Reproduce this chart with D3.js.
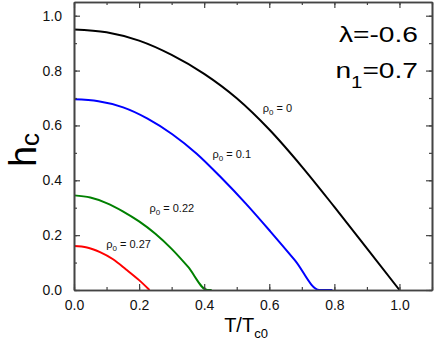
<!DOCTYPE html>
<html>
<head>
<meta charset="utf-8">
<script src="https://cdn.jsdelivr.net/npm/d3@7"></script>
<style>
  body { margin: 0; background: #fff; }
  text { font-family: "Liberation Sans", Arial, sans-serif; }
</style>
</head>
<body>
<div id="chart"></div>
<script>
// values (T/Tc0 , h_c)
var rhoLabels = ["0", "0.1", "0.22", "0.27"];
var colors = ["#000000", "#0000ff", "#008000", "#ff0000"];

var tBlack = [0, 0.1, 0.2, 0.3, 0.4, 0.5, 0.6, 0.7, 0.8, 0.9, 1.0];
var hBlack = [0.950, 0.940, 0.909, 0.857, 0.788, 0.699, 0.585, 0.450, 0.303, 0.152, 0];

var tBlue = [0, 0.075, 0.151, 0.226, 0.302, 0.377, 0.452, 0.528, 0.603, 0.679, 0.754, 0.794];
var hBlue = [0.695, 0.688, 0.666, 0.625, 0.568, 0.497, 0.410, 0.315, 0.214, 0.108, 0, 0];

var tGreen = [0, 0.05, 0.1, 0.15, 0.2, 0.25, 0.3, 0.35, 0.41, 0.423];
var hGreen = [0.345, 0.337, 0.317, 0.287, 0.250, 0.205, 0.150, 0.085, 0, 0];

var tRed = [0, 0.04, 0.08, 0.12, 0.16, 0.2, 0.232];
var hRed = [0.160, 0.155, 0.138, 0.112, 0.075, 0.036, 0];

var xTicks = [0, 0.2, 0.4, 0.6, 0.8, 1.0];
var yTicks = [0, 0.2, 0.4, 0.6, 0.8, 1.0];

(function() {
  var margin = { top: 2, left: 74, right: 4, bottom: 52 },
    width = 436 - margin.left - margin.right,
    height = 342 - margin.top - margin.bottom;

  var svg = d3.select("#chart")
    .append("svg")
    .attr("width", width + margin.left + margin.right)
    .attr("height", height + margin.top + margin.bottom)
    .append("g")
    .attr("transform", "translate(" + margin.left + "," + margin.top + ")");

  var x = d3.scaleLinear().domain([0, 1.1]).range([0, width]);
  var y = d3.scaleLinear().domain([0, 1.05]).range([height, 0]);

  var series = [[tBlack, hBlack], [tBlue, hBlue], [tGreen, hGreen], [tRed, hRed]];

  var line = d3.line()
    .x(function(d) { return x(d[0]); })
    .y(function(d) { return y(d[1]); })
    .curve(d3.curveMonotoneX);

  series.forEach(function(s, i) {
    var pts = s[0].map(function(t, j) { return [t, s[1][j]]; });
    svg.append("path")
      .datum(pts)
      .attr("d", line)
      .attr("fill", "none")
      .attr("stroke", colors[i])
      .attr("stroke-width", 2);
  });

  // axes, ticks point inward on all four sides
  var minorX = d3.range(0, 1.1001, 0.1);
  var minorY = d3.range(0, 1.0501, 0.1);

  function styleAxis(g) {
    g.select(".domain").attr("stroke", "#444").attr("stroke-width", 1.6);
    g.selectAll(".tick line").attr("stroke", "#444").attr("stroke-width", 1.2);
    g.selectAll(".tick text").attr("font-size", 14).attr("fill", "#111")
      .attr("font-family", "Liberation Sans, Arial, sans-serif");
  }

  svg.append("g").attr("transform", "translate(0," + height + ")")
    .call(d3.axisBottom(x).tickValues(minorX).tickSize(-3).tickFormat("").tickSizeOuter(0)).call(styleAxis);
  svg.append("g").attr("transform", "translate(0," + height + ")")
    .call(d3.axisBottom(x).tickValues(xTicks).tickSize(-6).tickPadding(10).tickFormat(d3.format(".1f")).tickSizeOuter(0))
    .call(styleAxis);

  svg.append("g")
    .call(d3.axisTop(x).tickValues(minorX).tickSize(-3).tickFormat("").tickSizeOuter(0)).call(styleAxis);
  svg.append("g")
    .call(d3.axisTop(x).tickValues(xTicks).tickSize(-6).tickFormat("").tickSizeOuter(0)).call(styleAxis);

  svg.append("g")
    .call(d3.axisLeft(y).tickValues(minorY).tickSize(-3).tickFormat("").tickSizeOuter(0)).call(styleAxis);
  svg.append("g")
    .call(d3.axisLeft(y).tickValues(yTicks).tickSize(-6).tickPadding(12).tickFormat(d3.format(".1f")).tickSizeOuter(0))
    .call(styleAxis);

  svg.append("g").attr("transform", "translate(" + width + ",0)")
    .call(d3.axisRight(y).tickValues(minorY).tickSize(-3).tickFormat("").tickSizeOuter(0)).call(styleAxis);
  svg.append("g").attr("transform", "translate(" + width + ",0)")
    .call(d3.axisRight(y).tickValues(yTicks).tickSize(-6).tickFormat("").tickSizeOuter(0)).call(styleAxis);

  // axis titles
  var xt = svg.append("text")
    .attr("x", 172).attr("y", height + 42)
    .attr("text-anchor", "middle")
    .attr("font-size", 20);
  xt.append("tspan").text("T/T");
  xt.append("tspan").attr("font-size", 13).attr("dy", 6).text("c0");

  var yt = svg.append("text")
    .attr("transform", "translate(-38," + (height / 2 + 4) + ") rotate(-90)")
    .attr("text-anchor", "middle")
    .attr("font-size", 38);
  yt.append("tspan").text("h");
  yt.append("tspan").attr("font-size", 26).attr("dy", 3).text("c");

  // curve labels, anchored in data units
  var labelAt = [[0.58, 0.649], [0.4255, 0.482], [0.232, 0.285], [0.099, 0.152]];
  rhoLabels.forEach(function(r, i) {
    var t = svg.append("text")
      .attr("x", x(labelAt[i][0]))
      .attr("y", y(labelAt[i][1]))
      .attr("font-size", 11)
      .attr("fill", "#111");
    t.append("tspan").text("\u03c1");
    t.append("tspan").attr("font-size", 8).attr("dy", 3).text("0");
    t.append("tspan").attr("dy", -3).text(" = " + r);
  });

  // parameters (the original's lettering is a little stretched sideways)
  svg.append("text")
    .attr("transform", "translate(344,40) scale(1.28,1)")
    .attr("text-anchor", "end")
    .attr("font-size", 22)
    .text("\u03bb=-0.6");
  var n1 = svg.append("text")
    .attr("transform", "translate(344,76) scale(1.28,1)")
    .attr("text-anchor", "end")
    .attr("font-size", 22);
  n1.append("tspan").text("n");
  n1.append("tspan").attr("font-size", 16).attr("dy", 10).text("1");
  n1.append("tspan").attr("dy", -10).text("=0.7");
})();
</script>
</body>
</html>
